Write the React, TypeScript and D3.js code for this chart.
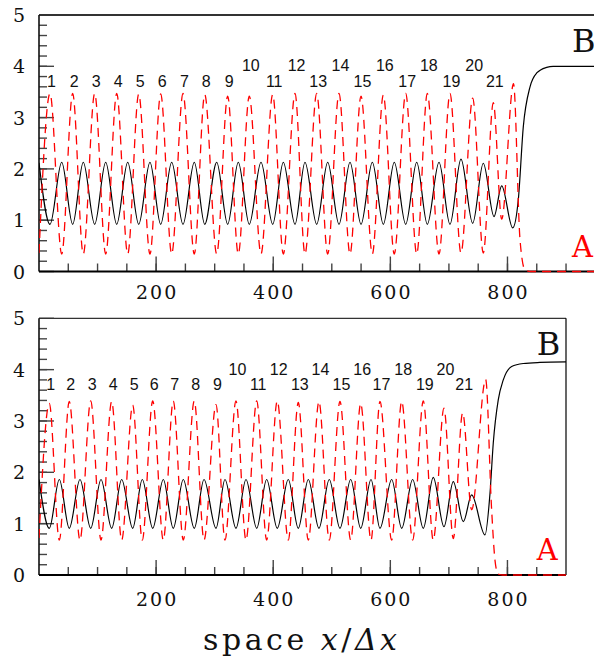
import React from 'react';
import * as d3 from 'd3';

// panel 1 (upper): red dashed A and black B, extrema
const topAx = [0, 18.8, 38.8, 57.5, 75.6, 95.1, 113.9, 132.7, 151.5, 170.3, 189.5, 207.8, 226.6, 245.9, 265.2, 283.0, 303.5, 322.2, 340.3, 359.1, 379.1, 399.1, 417.2, 437.2, 454.2, 474.2, 493.0, 512.3, 531.1, 549.9, 569.2, 588.0, 606.7, 626.2, 645.0, 663.1, 683.1, 701.8, 720.6, 740.6, 758.7, 775.8, 790.1, 810.3, 821.4, 830, 840, 1000];
const topAy = [0.36, 3.47, 0.34, 3.47, 0.34, 3.47, 0.34, 3.47, 0.34, 3.46, 0.34, 3.46, 0.34, 3.47, 0.34, 3.45, 0.34, 3.42, 0.34, 3.42, 0.34, 3.45, 0.34, 3.47, 0.34, 3.47, 0.34, 3.47, 0.34, 3.42, 0.34, 3.44, 0.34, 3.47, 0.34, 3.47, 0.34, 3.47, 0.36, 3.38, 0.36, 3.29, 1.02, 3.66, 0.62, 0.03, 0, 0];
const topBx = [0, 18.8, 38.8, 57.5, 75.6, 95.1, 113.9, 132.7, 151.5, 170.3, 189.5, 207.8, 226.6, 245.9, 265.2, 283.0, 303.5, 322.2, 340.3, 359.1, 379.1, 399.1, 417.2, 437.2, 454.2, 474.2, 493.0, 512.3, 531.1, 549.9, 569.2, 588.0, 606.7, 626.2, 645.0, 663.1, 683.1, 701.8, 720.6, 740.6, 758.7, 777, 790.1, 808.9, 818.5, 827, 838.5, 849.9, 867, 878, 1000];
const topBy = [2.12, 0.92, 2.13, 0.92, 2.13, 0.92, 2.13, 0.92, 2.13, 0.92, 2.13, 0.92, 2.13, 0.92, 2.13, 0.92, 2.13, 0.92, 2.13, 0.92, 2.13, 0.92, 2.13, 0.92, 2.13, 0.92, 2.13, 0.92, 2.13, 0.92, 2.13, 0.92, 2.13, 0.92, 2.13, 0.92, 2.13, 0.92, 2.19, 0.94, 2.11, 1.07, 1.67, 0.85, 1.4, 2.82, 3.6, 3.87, 3.98, 4.0, 4.0];

// panel 2 (lower)
const botAx = [0, 17.6, 34.7, 51.7, 70.0, 88.3, 105.9, 124.1, 141.2, 160.0, 176.4, 194.2, 212.3, 229.3, 246.4, 265.2, 281.8, 302.3, 317.6, 336.4, 353.5, 371.8, 388.8, 406.9, 425.7, 442.8, 459.9, 478.1, 495.7, 514.0, 532.3, 549.4, 567.0, 582.3, 602.3, 619.4, 638.1, 656.3, 673.3, 691.6, 707.5, 723.5, 738.9, 762.8, 773.0, 778.7, 784, 792, 900];
const botAy = [0.72, 3.34, 0.68, 3.38, 0.68, 3.39, 0.68, 3.38, 0.68, 3.31, 0.68, 3.39, 0.68, 3.39, 0.68, 3.39, 0.68, 3.32, 0.68, 3.39, 0.68, 3.39, 0.68, 3.39, 0.68, 3.36, 0.68, 3.38, 0.68, 3.38, 0.68, 3.34, 0.68, 3.38, 0.68, 3.38, 0.68, 3.39, 0.68, 3.25, 0.71, 3.16, 1.27, 3.81, 1.27, 0.29, 0.02, 0, 0];
const botBx = [0, 17.6, 34.7, 51.7, 70.0, 88.3, 105.9, 124.1, 141.2, 160.0, 176.4, 194.2, 212.3, 229.3, 246.4, 265.2, 281.8, 302.3, 317.6, 336.4, 353.5, 371.8, 388.8, 406.9, 425.7, 442.8, 459.9, 478.1, 495.7, 514.0, 532.3, 549.4, 567.0, 582.3, 602.3, 619.4, 638.1, 656.3, 673.3, 691.6, 707.5, 724.6, 738.9, 761.6, 770.2, 775.8, 784.3, 792.9, 807.2, 827, 855.5, 900];
const botBy = [1.86, 0.91, 1.86, 0.91, 1.86, 0.91, 1.86, 0.91, 1.86, 0.91, 1.86, 0.91, 1.86, 0.91, 1.86, 0.91, 1.86, 0.91, 1.86, 0.91, 1.86, 0.91, 1.86, 0.91, 1.86, 0.91, 1.86, 0.91, 1.86, 0.91, 1.86, 0.91, 1.86, 0.91, 1.86, 0.91, 1.86, 0.91, 1.9, 0.94, 1.82, 1.04, 1.56, 0.78, 1.59, 2.57, 3.41, 3.8, 4.06, 4.12, 4.14, 4.15];

// peak numbers: 1..9 low row, then even numbers in the upper row
const peakLabels = d3.range(1, 22).map(String);
const labelRow = peakLabels.map(l => (+l >= 10 && +l % 2 === 0 ? 3.9 : 3.6));

const xMajor = [200, 400, 600, 800];
const yMajor = [0, 1, 2, 3, 4, 5];

const serif = 'DejaVu Serif';

function Panel({ ax, ay, bx, by, xMax, x0, x1, yBottom, yTop, labelDy, keyX, frameRight }) {
  const x = d3.scaleLinear().domain([0, xMax]).range([x0, x1]);
  const y = d3.scaleLinear().domain([0, 5]).range([yBottom, yTop]);
  const mk = d3.line().x(d => x(d[0])).y(d => y(d[1])).curve(d3.curveMonotoneX);
  const A = mk(ax.map((v, i) => [v, ay[i]]));
  const B = mk(bx.map((v, i) => [v, by[i]]));
  const xMinor = d3.range(50, xMax, 50);
  const yMinor = d3.range(0.2, 5, 0.2);
  const peaksX = ax.filter((_, i) => i % 2 === 1).slice(0, 21);
  const id = 'clip' + Math.round(yTop);

  return (
    <g>
      <defs>
        <clipPath id={id}>
          <rect x={x0} y={yTop} width={x1 - x0} height={yBottom - yTop + 2} />
        </clipPath>
      </defs>
      {/* ticks */}
      <g stroke="#444" strokeWidth={1.4}>
        {yMinor.map(t => <line key={'ym' + t} x1={x0} x2={x0 + 8} y1={y(t)} y2={y(t)} />)}
        {yMajor.map(t => <line key={'yM' + t} x1={x0} x2={x0 + 15} y1={y(t)} y2={y(t)} />)}
        {xMinor.map(t => <line key={'xm' + t} x1={x(t)} x2={x(t)} y1={yBottom} y2={yBottom - 8} />)}
        {xMajor.map(t => <line key={'xM' + t} x1={x(t)} x2={x(t)} y1={yBottom} y2={yBottom - 15} />)}
      </g>
      {/* frame */}
      <line x1={x0} x2={x1} y1={yTop} y2={yTop} stroke="#333" strokeWidth={frameRight ? 1.2 : 1.8} />
      <line x1={x0} x2={x0} y1={yTop} y2={yBottom} stroke="#111" strokeWidth={1.6} />
      <line x1={x0} x2={x1} y1={yBottom} y2={yBottom} stroke="#000" strokeWidth={2} />
      {frameRight && <line x1={x1} x2={x1} y1={yTop} y2={yBottom} stroke="#000" strokeWidth={1.2} />}
      <g clipPath={`url(#${id})`}>
        <path d={B} fill="none" stroke="#000" strokeWidth={1.2} />
        <path d={A} fill="none" stroke="#ff0000" strokeWidth={1.3} strokeDasharray="9,6" />
      </g>
      {/* tick labels */}
      {yMajor.map(t => (
        <text key={'yl' + t} x={25} y={y(t) + 7} textAnchor="end" fontFamily={serif} fontSize={19} fill="#111">{t}</text>
      ))}
      {xMajor.map(t => (
        <text key={'xl' + t} x={x(t) + 1} y={yBottom + labelDy} textAnchor="middle" fontFamily={serif} fontSize={19} letterSpacing={2} fill="#111">{t}</text>
      ))}
      {/* peak numbers */}
      {peaksX.map((px, i) => (
        <text key={'pl' + i} x={x(px) + 1.5} y={y(labelRow[i])} textAnchor="middle" fontFamily="Liberation Sans, Arial, sans-serif" fontSize={16} fill="#111">{peakLabels[i]}</text>
      ))}
      <text x={x(keyX)} y={y(4.28)} fontFamily={serif} fontSize={32} fill="#111">B</text>
      <text x={x(keyX)} y={y(0.29)} fontFamily={serif} fontSize={29} fill="#ff0000">A</text>
    </g>
  );
}

export default function App() {
  return (
    <svg width={594} height={664} style={{ position: 'absolute', left: 0, top: 0, background: '#fff' }}>
      <rect width={594} height={664} fill="#fff" />
      <Panel ax={topAx} ay={topAy} bx={topBx} by={topBy} xMax={1000} x0={39} x1={624.6}
        yBottom={271.5} yTop={15} labelDy={27} keyX={910} frameRight={false} />
      <Panel ax={botAx} ay={botAy} bx={botBx} by={botBy} xMax={900} x0={39} x1={566}
        yBottom={575} yTop={318.3} labelDy={31} keyX={850} frameRight={true} />
      <text x={300} y={650} textAnchor="middle" fontFamily={serif} fontSize={30} fill="#111"
        textLength={194} lengthAdjust="spacing">
        space <tspan fontStyle="italic">x</tspan>/<tspan fontStyle="italic">Δx</tspan>
      </text>
    </svg>
  );
}
